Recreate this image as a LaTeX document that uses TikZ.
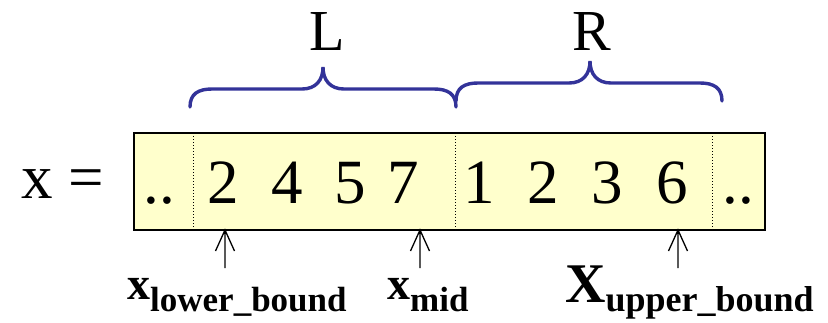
\documentclass[tikz,border=0pt]{standalone}
\usepackage{fontspec}
\setmainfont{Liberation Serif}
\definecolor{cellfill}{HTML}{FFFFCC}
\definecolor{bracecol}{HTML}{333399}
\begin{document}
\begin{tikzpicture}[x=1pt,y=-1pt,
  digit/.style={anchor=base,inner sep=0pt,font=\fontsize{63}{63}\selectfont},
  part/.style={anchor=base,inner sep=0pt,font=\fontsize{58}{58}\selectfont},
  brace/.style={draw=bracecol,line width=3.4pt,line cap=round},
  sep/.style={draw=black,line width=1pt,dotted},
  ptr/.style={draw=black,line width=1.3pt},
  lbl/.style={anchor=base west,inner sep=0pt}]
  \useasboundingbox (0,0) rectangle (828,322);

  % array cell strip
  \node[draw=black,line width=1.5pt,fill=cellfill,minimum width=631pt,minimum height=97pt,
        inner sep=0pt,anchor=north west] (strip) at (133,132) {};
  \draw[sep] (193,133) -- (193,228);
  \draw[sep] (455,133) -- (455,228);
  \draw[sep] (712,133) -- (712,228);

  % x =
  \node[digit] (xv) at (37,198) {x};
  \node[digit] (eq) at (86,198) {=};

  % cell contents
  \node[digit] (dl) at (159,203) {..};
  \node[digit] (a1) at (223,203) {2};
  \node[digit] (a2) at (287,203) {4};
  \node[digit] (a3) at (350,203) {5};
  \node[digit] (a4) at (403,203) {7};
  \node[digit] (b1) at (479,203) {1};
  \node[digit] (b2) at (543,203) {2};
  \node[digit] (b3) at (607,203) {3};
  \node[digit] (b4) at (672,203) {6};
  \node[digit] (dr) at (738,203) {..};

  % halves
  \node[part] (L) at (327,50) {L};
  \node[part] (R) at (592,50) {R};

  \draw[brace] (190,107) .. controls (190,94) and (198,89) .. (212,89) -- (302,89)
    .. controls (316,89) and (323,80) .. (323,67)
    .. controls (323,80) and (330,89) .. (344,89) -- (434,89)
    .. controls (448,89) and (456,94) .. (456,107);
  \draw[brace] (456,101) .. controls (456,88) and (464,83) .. (478,83) -- (569,83)
    .. controls (583,83) and (590,74) .. (590,61)
    .. controls (590,74) and (597,83) .. (611,83) -- (700,83)
    .. controls (714,83) and (722,88) .. (722,101);

  % index pointers with open barbed heads
  \coordinate (p1) at (225,268); \coordinate (t1) at (225,230);
  \coordinate (p2) at (420,268); \coordinate (t2) at (420,230);
  \coordinate (p3) at (678,268); \coordinate (t3) at (678,230);
  \foreach \p/\t in {p1/t1,p2/t2,p3/t3}
    \draw[ptr] (\p) -- (\t) ++(-9.5,21) -- (\t) -- ++(9.5,21);

  \node[lbl] (lo) at (127,299) {\bfseries\fontsize{46}{46}\selectfont x\raisebox{-12pt}{\fontsize{35}{35}\selectfont lower\_bound}};
  \node[lbl] (mid) at (387,299) {\bfseries\fontsize{46}{46}\selectfont x\raisebox{-12pt}{\fontsize{35}{35}\selectfont mid}};
  \node[lbl] (up) at (565,302) {\bfseries\fontsize{56}{56}\selectfont X\raisebox{-9pt}{\fontsize{36}{36}\selectfont upper\_bound}};
\end{tikzpicture}
\end{document}
